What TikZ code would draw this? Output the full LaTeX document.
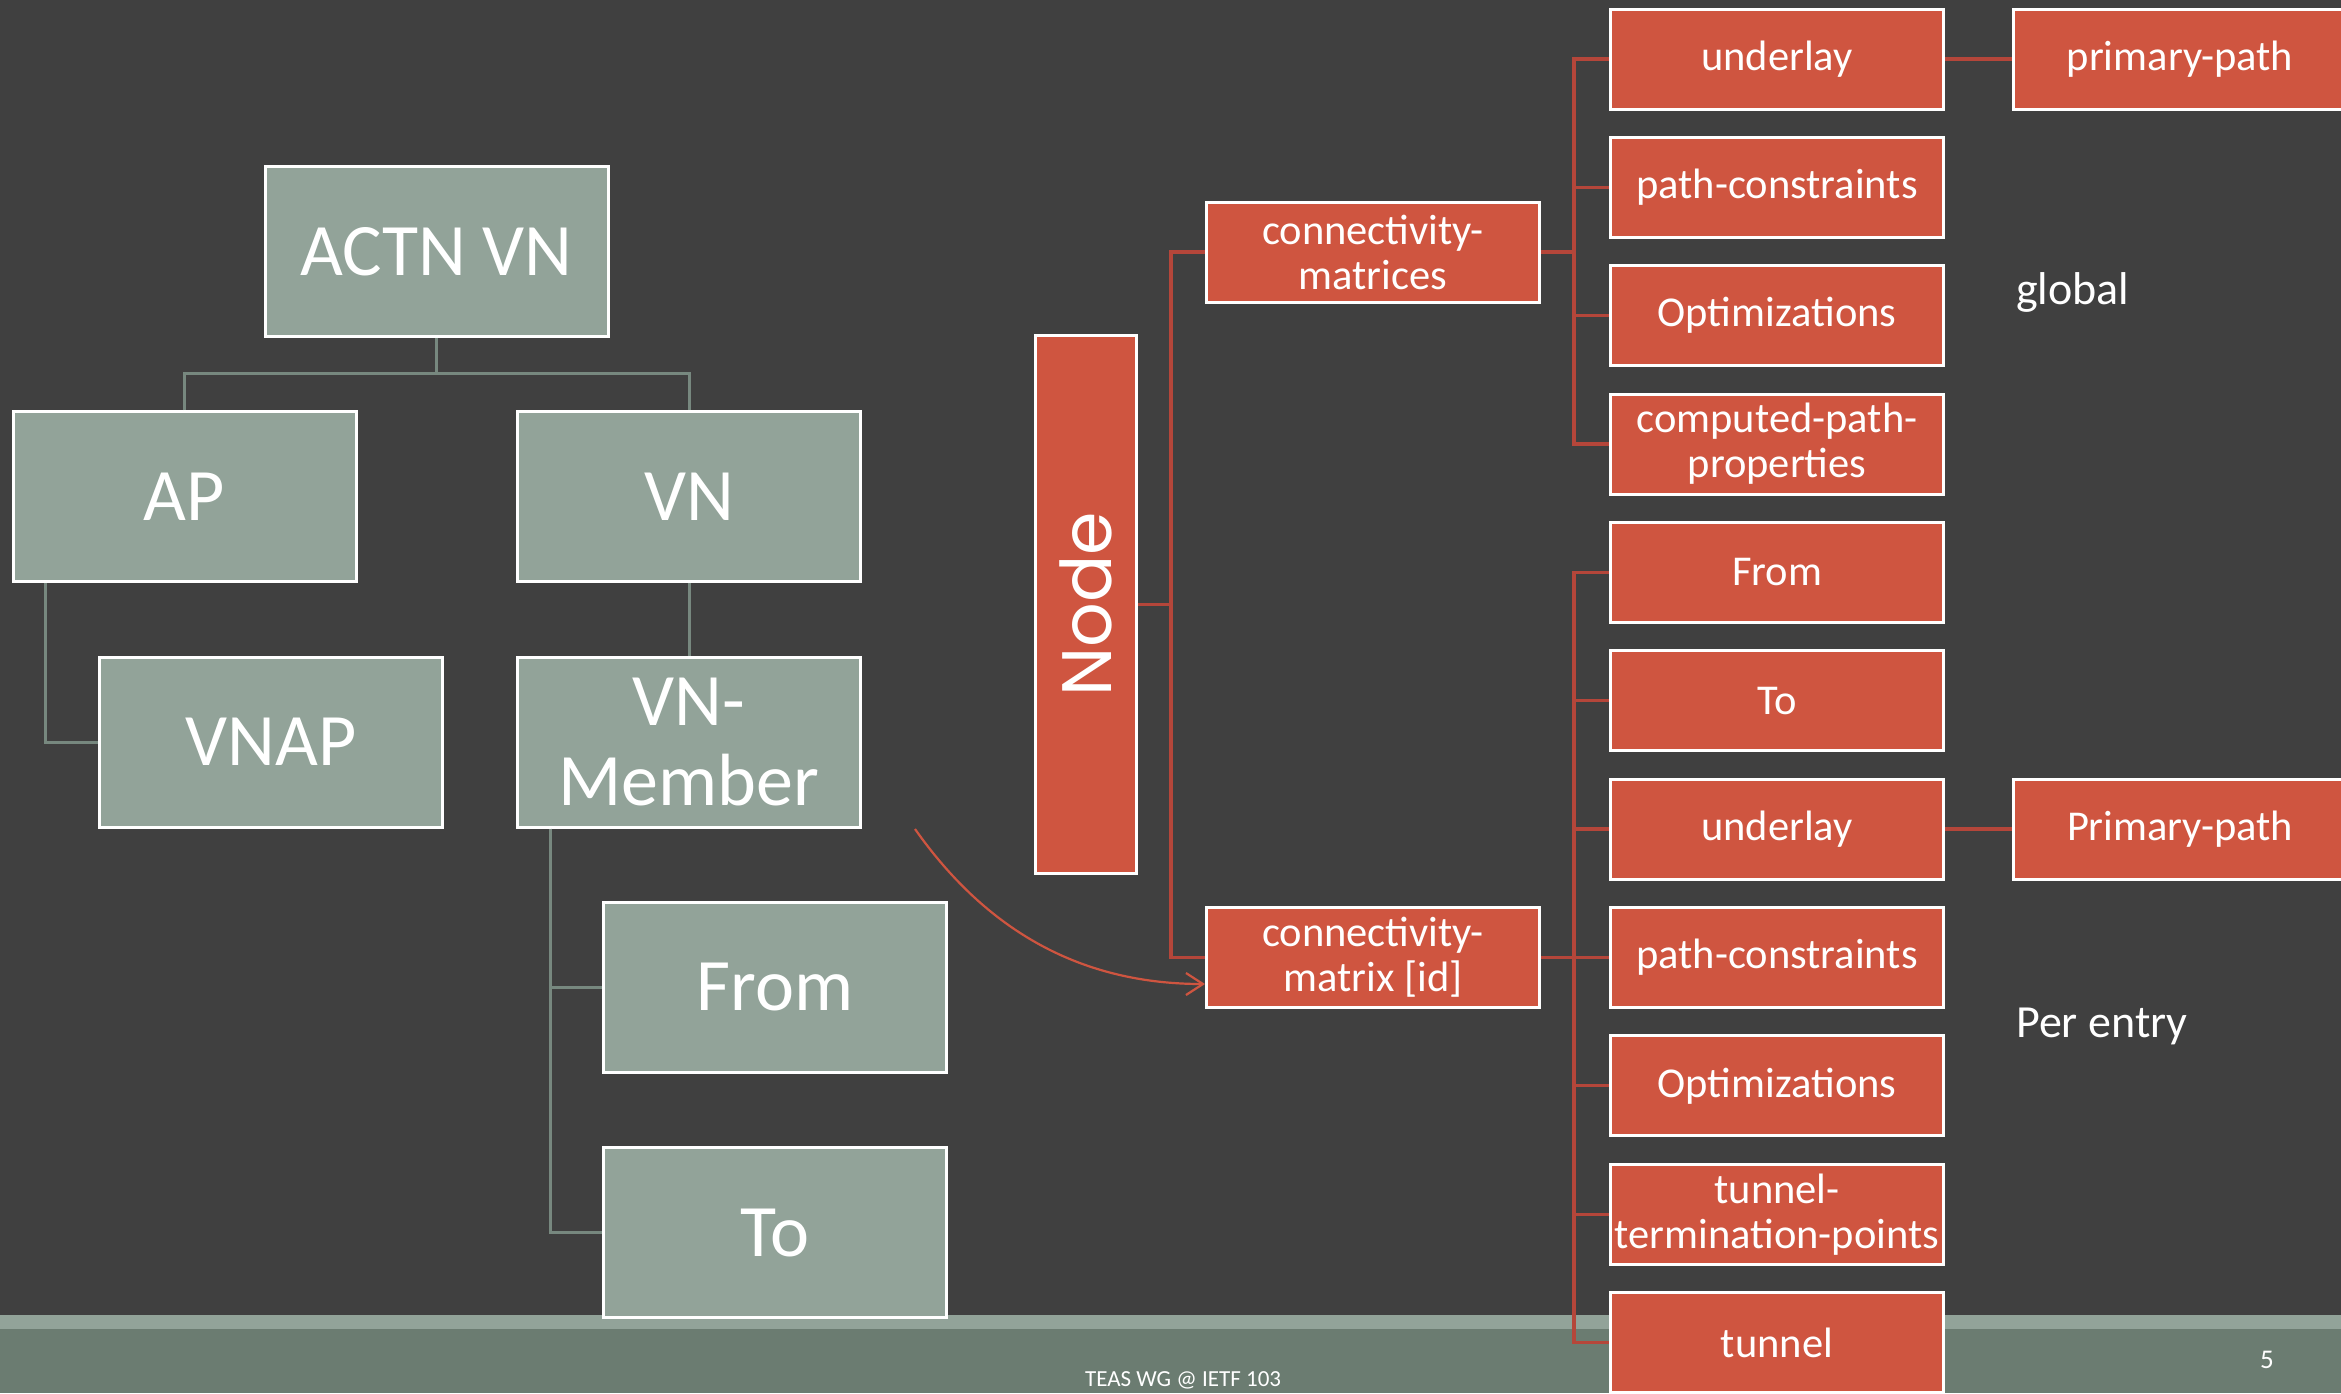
\documentclass[tikz,border=0pt]{standalone}
\usepackage{fontspec}
\usepackage{graphicx}
\setmainfont{Carlito}
\newfontfamily\geofont{Poppins}
\usetikzlibrary{arrows.meta,calc}

\definecolor{bgdark}{HTML}{404040}
\definecolor{sage}{HTML}{92A399}
\definecolor{sageline}{HTML}{77887F}
\definecolor{footdark}{HTML}{6B7C71}
\definecolor{brick}{HTML}{CF5540}
\definecolor{brickline}{HTML}{B5463A}

\begin{document}
\begin{tikzpicture}[x=1pt,y=-1pt,
  greybox/.style={draw=white, line width=3pt, fill=sage, text=white,
    minimum width=343pt, minimum height=170pt, inner sep=0pt,
    font=\fontsize{74}{80}\selectfont, align=center},
  redbox/.style={draw=white, line width=3pt, fill=brick, text=white,
    minimum width=333pt, minimum height=100pt, inner sep=0pt,
    font=\fontsize{42.5}{45}\selectfont, align=center},
  greylink/.style={draw=sageline, line width=3pt},
  redlink/.style={draw=brickline, line width=3.3pt},
  pointer/.style={draw=brick, line width=2.2pt,
    -{Straight Barb[length=17pt,width=22pt,line width=2.2pt]}},
  label/.style={text=white, inner sep=0pt},
]
\useasboundingbox (0,0) rectangle (2341,1393);
\clip (0,0) rectangle (2341,1393);

% slide background and footer bands
\fill[bgdark] (0,0) rectangle (2341,1393);
\fill[sage] (0,1315) rectangle (2341,1329);
\fill[footdark] (0,1329) rectangle (2341,1393);

% left tree
\node[greybox] (actn) at (436.5,251.5) {ACTN VN};
\node[greybox] (ap) at (184.5,496.5) {AP};
\node[greybox] (vn) at (689,496.5) {VN};
\node[greybox] (vnap) at (271,742) {VNAP};
\node[greybox] (vnm) at (689,742) {VN-\\Member};
\node[greybox] (gfrom) at (775,987) {From};
\node[greybox] (gto) at (775,1232.5) {To};

\draw[greylink] (actn.south) -- ++(0,35) coordinate (bus);
\draw[greylink] (ap.north) |- (bus) -| (vn.north);
\draw[greylink] ([xshift=34pt]ap.south west) |- (vnap.west);
\draw[greylink] (vn.south) -- (vnm.north);
\draw[greylink] ([xshift=34pt]vnm.south west) |- (gfrom.west);
\draw[greylink] ([xshift=34pt]vnm.south west) |- (gto.west);

% right tree
\node[redbox, minimum width=101pt, minimum height=538pt] (nodebox) at (1086,604.5)
  {\rotatebox{90}{\geofont\fontsize{70}{70}\selectfont Node}};
\node[redbox] (cms) at (1373,252) {connectivity-\\matrices};
\node[redbox] (cmid) at (1373,957.5) {connectivity-\\matrix [id]};

\node[redbox] (ul1) at (1777,59) {underlay};
\node[redbox] (pc1) at (1777,187.35) {path-constraints};
\node[redbox] (op1) at (1777,315.7) {Optimizations};
\node[redbox] (cp)  at (1777,444.05) {computed-path-\\properties};
\node[redbox] (rfrom) at (1777,572.4) {From};
\node[redbox] (rto) at (1777,700.75) {To};
\node[redbox] (ul2) at (1777,829.1) {underlay};
\node[redbox] (pc2) at (1777,957.45) {path-constraints};
\node[redbox] (op2) at (1777,1085.8) {Optimizations};
\node[redbox] (ttp) at (1777,1214.15) {tunnel-\\termination-points};
\node[redbox] (tun) at (1777,1342.5) {tunnel};

\node[redbox] (pp1) at (2180,59) {primary-path};
\node[redbox] (pp2) at (2180,829.1) {Primary-path};

\draw[redlink] (nodebox.east) -- ++(33,0) coordinate (nbus);
\draw[redlink] (cms.west) -| (nbus) |- (cmid.west);

\draw[redlink] (cms.east) -- ++(33,0) coordinate (gbus);
\draw[redlink] (ul1.west) -| (gbus) |- (cp.west);
\draw[redlink] (pc1.west) -- (pc1.west -| gbus);
\draw[redlink] (op1.west) -- (op1.west -| gbus);

\draw[redlink] (cmid.east) -- ++(33,0) coordinate (ebus);
\draw[redlink] (rfrom.west) -| (ebus) |- (tun.west);
\draw[redlink] (rto.west) -- (rto.west -| ebus);
\draw[redlink] (ul2.west) -- (ul2.west -| ebus);
\draw[redlink] (pc2.west) -- (pc2.west -| ebus);
\draw[redlink] (op2.west) -- (op2.west -| ebus);
\draw[redlink] (ttp.west) -- (ttp.west -| ebus);

\draw[redlink] (ul1.east) -- (pp1.west);
\draw[redlink] (ul2.east) -- (pp2.west);

% pointer from the VN-Member subtree to the per-entry matrix
\coordinate (ptrstart) at (915,829);
\draw[pointer] (ptrstart) .. controls (987.7,932.3) and (1082.3,984)
  .. ([yshift=-26.5pt]cmid.west);

% side labels
\node[label, anchor=base west, font=\fontsize{46}{48}\selectfont] (glob) at (2016,304.7) {global};
\node[label, anchor=base west, font=\fontsize{46}{48}\selectfont] (perentry) at (2016,1037.7) {Per entry};

% footer
\node[label, anchor=base west, font=\fontsize{23}{25}\selectfont] (foot) at (1085,1386) {TEAS WG @ IETF 103};
\node[label, anchor=base, font=\fontsize{27}{29}\selectfont] (pagenum) at (2267,1368) {5};
\end{tikzpicture}
\end{document}
